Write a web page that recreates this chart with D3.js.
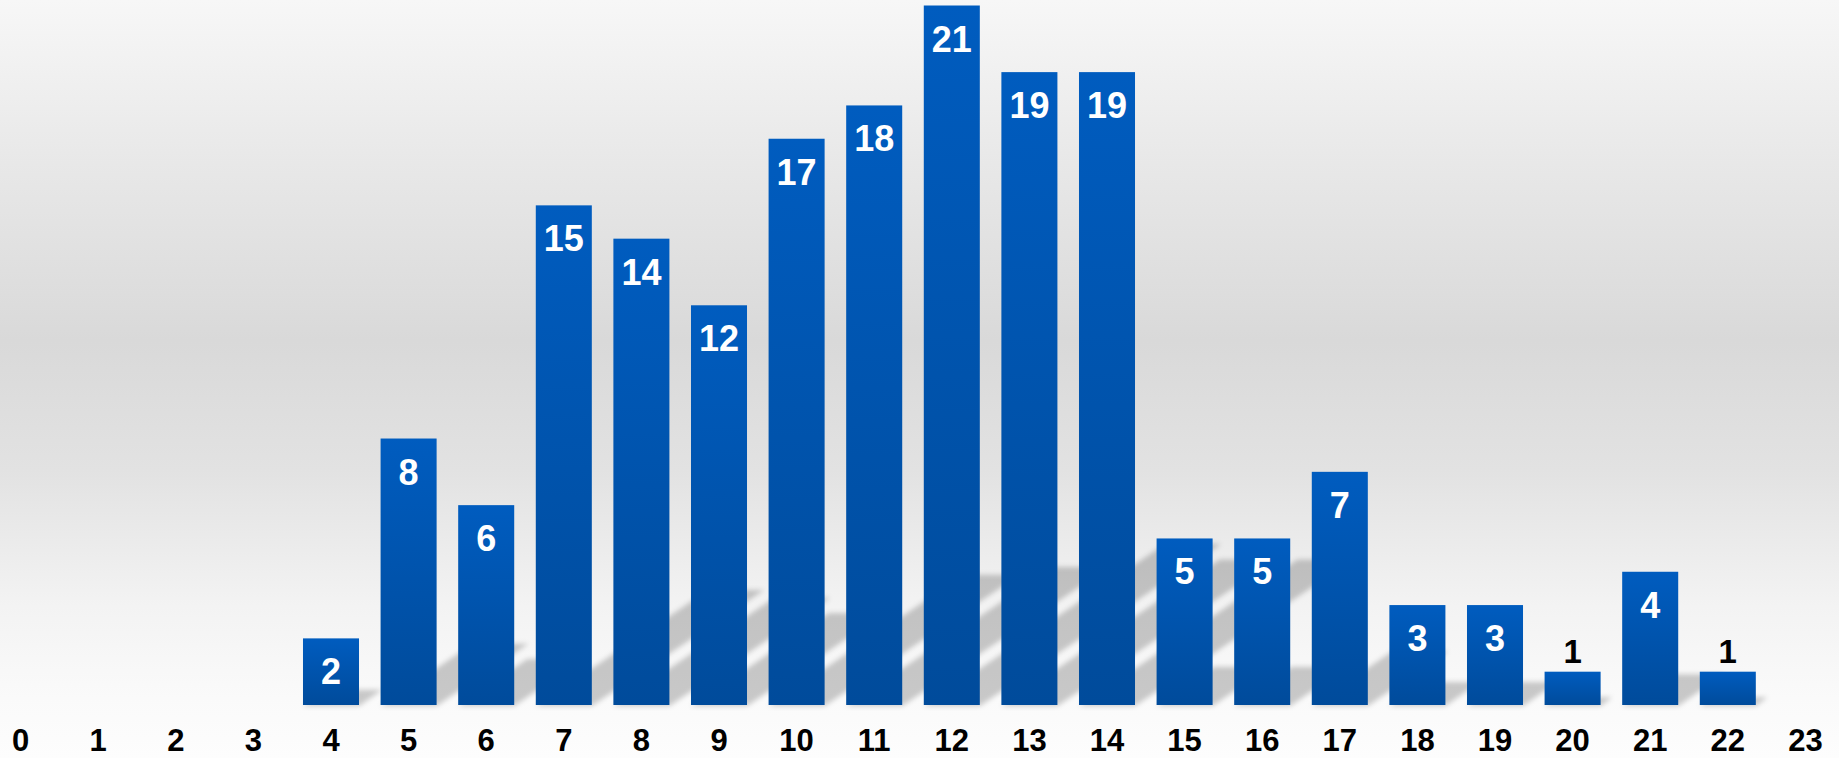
<!DOCTYPE html>
<html>
<head>
<meta charset="utf-8">
<script src="https://cdn.jsdelivr.net/npm/d3@7"></script>
<style>
  html, body { margin: 0; padding: 0; background: #fdfdfd; overflow: hidden; }
  svg { display: block; }
</style>
</head>
<body>
<svg id="chart" width="1839" height="758"></svg>
<script>
// ---- data ----
const categories = ["0","1","2","3","4","5","6","7","8","9","10","11","12","13","14","15","16","17","18","19","20","21","22","23"];
const values     = [0, 0, 0, 0, 2, 8, 6, 15, 14, 12, 17, 18, 21, 19, 19, 5, 5, 7, 3, 3, 1, 4, 1, 0];
const yMax = 21;

// ---- layout ----
const W = 1839, H = 758;
const baseY = 705, topY = 5.5;
const svg = d3.select("#chart");
const defs = svg.append("defs");

const bg = defs.append("linearGradient").attr("id", "bg").attr("x1", 0).attr("y1", 0).attr("x2", 0).attr("y2", 1);
[[0, "#f7f7f7"], [0.2, "#e9e9e9"], [0.45, "#d9d9d9"], [0.62, "#e2e2e2"], [0.8, "#f3f3f3"], [0.92, "#fafafa"], [1, "#fdfdfd"]]
  .forEach(([o, c]) => bg.append("stop").attr("offset", o).attr("stop-color", c));

const barGrad = defs.append("linearGradient").attr("id", "barGrad").attr("x1", 0).attr("y1", 0).attr("x2", 0).attr("y2", 1);
barGrad.append("stop").attr("offset", 0).attr("stop-color", "#005cbf");
barGrad.append("stop").attr("offset", 1).attr("stop-color", "#004b9b");

const blur = defs.append("filter").attr("id", "blur").attr("x", "-20%").attr("y", "-20%").attr("width", "140%").attr("height", "140%");
blur.append("feGaussianBlur").attr("stdDeviation", 2.6);

svg.append("rect").attr("width", W).attr("height", H).attr("fill", "url(#bg)");

const x = d3.scaleBand().domain(categories).range([-18.2, 1844.2]).paddingInner(0.278).paddingOuter(0.139);
const y = d3.scaleLinear().domain([0, yMax]).range([baseY, topY]);

const data = categories.map((c, i) => ({ c, v: values[i] }));

// ---- shadows ----
const shK = 0.23, shS = 1.5;
svg.append("g").attr("filter", "url(#blur)")
  .selectAll("path").data(data.filter(d => d.v > 0)).join("path")
  .attr("d", d => {
    const x0 = x(d.c), x1 = x0 + x.bandwidth();
    const h = (baseY - y(d.v)) * shK;
    const dx = h * shS;
    return `M${x0},${baseY + 1}L${x1},${baseY + 1}L${x1 + dx},${baseY - h}L${x0 + dx},${baseY - h}Z`;
  })
  .attr("fill", "#000").attr("fill-opacity", 0.2);

// ---- bars ----
svg.append("g").selectAll("rect").data(data.filter(d => d.v > 0)).join("rect")
  .attr("x", d => x(d.c))
  .attr("y", d => y(d.v))
  .attr("width", x.bandwidth())
  .attr("height", d => baseY - y(d.v))
  .attr("fill", "url(#barGrad)");

// ---- value labels ----
const font = "'Liberation Sans', Arial, Helvetica, sans-serif";
const inside = d => (baseY - y(d.v)) > 55;
svg.append("g").selectAll("text").data(data.filter(d => d.v > 0)).join("text")
  .attr("x", d => x(d.c) + x.bandwidth() / 2)
  .attr("y", d => inside(d) ? y(d.v) + 46 : y(d.v) - 9)
  .attr("text-anchor", "middle")
  .attr("font-family", font)
  .attr("font-weight", "bold")
  .attr("font-size", d => inside(d) ? 36 : 33)
  .attr("fill", d => inside(d) ? "#ffffff" : "#000000")
  .text(d => d.v);

// ---- x axis ----
const axis = svg.append("g").attr("transform", `translate(0,751)`)
  .call(d3.axisBottom(x).tickSize(0).tickPadding(0));
axis.select(".domain").remove();
axis.selectAll("text")
  .attr("y", 0).attr("dy", null)
  .attr("font-family", font)
  .attr("font-weight", "bold")
  .attr("font-size", 31)
  .attr("fill", "#000");
</script>
</body>
</html>
